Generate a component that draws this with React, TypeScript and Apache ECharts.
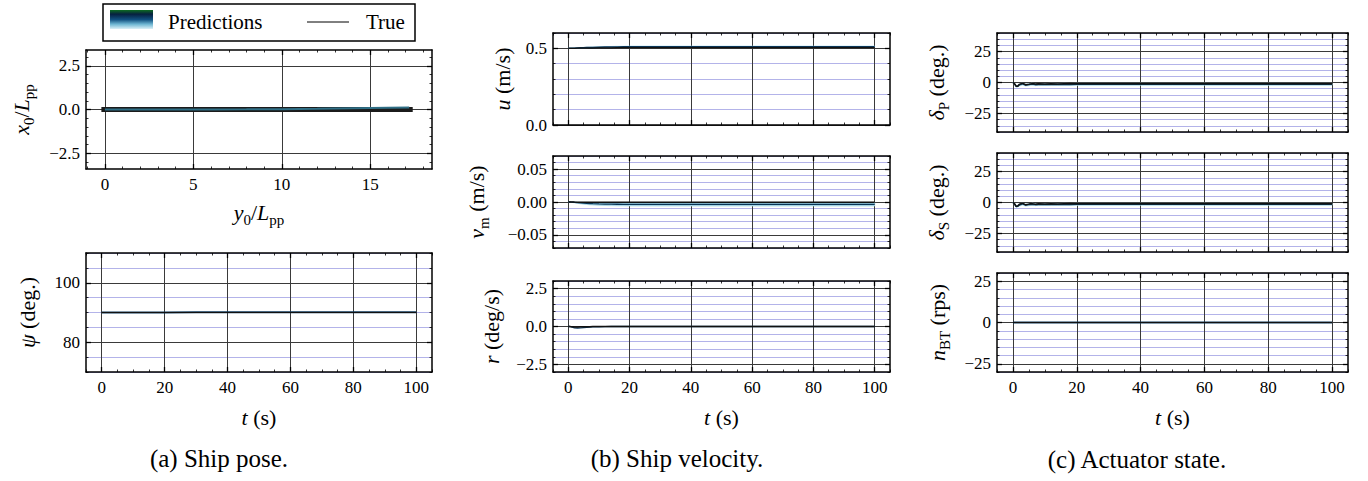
import React, { useEffect, useRef } from "react";
import * as echarts from "echarts";

const FONT = "'Liberation Serif', 'Times New Roman', serif";

// ---- tick labels ----
const timeTicks = [0, 20, 40, 60, 80, 100];
const poseEastTicks = [0, 5, 10, 15];
const poseNorthTicks = [-2.5, 0, 2.5];
const psiTicks = [80, 100];
const uTicks = [0, 0.5];
const vmTicks = [-0.05, 0, 0.05];
const rTicks = [-2.5, 0, 2.5];
const deltaTicks = [-25, 0, 25];
const nbtTicks = [-25, 0, 25];

// ---- data ----
const tGrid = [0, 0.5, 1, 1.5, 2, 3, 4, 5, 6, 7, 8, 10, 12, 14, 16, 18, 20, 30, 40, 50, 60, 70, 80, 90, 100];

const poseY0True = [-0.2, 2, 4, 6, 8, 10, 12, 14, 16, 17.4];
const poseX0True = [0, 0, 0, 0, 0, 0, 0, 0, 0, 0];
const poseY0Pred = [0, 2, 4, 6, 8, 10, 12, 14, 16, 17.2];
const poseX0Pred = [0, 0, 0, 0.005, 0.01, 0.02, 0.04, 0.07, 0.1, 0.12];

const psiTrue = [90, 90, 90, 90, 90, 90, 90, 90, 90, 90, 90, 90, 90, 90, 90, 90, 90, 90, 90, 90, 90, 90, 90, 90, 90];
const psiPred = [90, 90, 90, 90, 90, 90, 90, 90, 90, 90, 90, 90, 90, 90, 90, 90, 90, 90.1, 90.1, 90.1, 90.1, 90.1, 90.1, 90.1, 90.1];

const uTrue = [0.5, 0.5, 0.5, 0.5, 0.5, 0.501, 0.501, 0.501, 0.502, 0.502, 0.502, 0.503, 0.503, 0.503, 0.504, 0.504, 0.504, 0.505, 0.505, 0.505, 0.505, 0.505, 0.505, 0.505, 0.505];
const uPred = [0.5, 0.5, 0.5, 0.501, 0.501, 0.502, 0.503, 0.504, 0.505, 0.506, 0.506, 0.507, 0.508, 0.509, 0.509, 0.51, 0.51, 0.511, 0.511, 0.511, 0.511, 0.511, 0.511, 0.511, 0.511];
const uLow = [0.5, 0.5, 0.5, 0.5, 0.5, 0.501, 0.502, 0.502, 0.503, 0.504, 0.504, 0.505, 0.506, 0.506, 0.507, 0.507, 0.507, 0.508, 0.508, 0.508, 0.508, 0.508, 0.508, 0.508, 0.508];
const uHigh = [0.5, 0.5, 0.501, 0.502, 0.503, 0.504, 0.505, 0.506, 0.507, 0.508, 0.509, 0.51, 0.511, 0.512, 0.513, 0.513, 0.514, 0.514, 0.514, 0.514, 0.514, 0.514, 0.514, 0.514, 0.514];

const vmTrue = [0, 0, 0, 0, -0.0001, -0.0002, -0.0003, -0.0004, -0.0005, -0.0005, -0.0005, -0.0005, -0.0005, -0.0005, -0.0005, -0.0005, -0.0005, -0.0005, -0.0005, -0.0005, -0.0005, -0.0005, -0.0005, -0.0005, -0.0005];
const vmPred = [0, 0, -0.0002, -0.0004, -0.0006, -0.001, -0.0014, -0.0018, -0.0021, -0.0024, -0.0026, -0.0029, -0.0031, -0.0033, -0.0034, -0.0035, -0.0036, -0.0037, -0.0037, -0.0037, -0.0037, -0.0037, -0.0037, -0.0037, -0.0037];
const vmLow = [0, 0, -0.0004, -0.0008, -0.0012, -0.002, -0.0027, -0.0033, -0.0038, -0.0042, -0.0045, -0.005, -0.0053, -0.0055, -0.0057, -0.0058, -0.0059, -0.006, -0.006, -0.006, -0.006, -0.006, -0.006, -0.006, -0.006];
const vmHigh = [0, 0, 0, -0.0001, -0.0002, -0.0003, -0.0004, -0.0005, -0.0006, -0.0007, -0.0008, -0.0009, -0.001, -0.001, -0.001, -0.001, -0.001, -0.001, -0.001, -0.001, -0.001, -0.001, -0.001, -0.001, -0.001];

const rTrue = [0, 0, -0.01, -0.02, -0.03, -0.03, -0.02, -0.02, -0.01, -0.01, 0, 0, 0, 0, 0, 0, 0, 0, 0, 0, 0, 0, 0, 0, 0];
const rPred = [0, 0, -0.03, -0.06, -0.09, -0.1, -0.09, -0.07, -0.05, -0.04, -0.03, -0.02, -0.01, 0, 0, 0, 0, 0, 0, 0, 0, 0, 0, 0, 0];

const dPTrue = [0, -1, -3, -3, -1.5, -0.5, -1.8, -1.4, -0.9, -1.3, -1.1, -1.3, -1, -1.2, -1, -1.1, -1, -1, -1, -1, -1, -1, -1, -1, -1];
const dPPred = [0, -1.2, -3.2, -3, -2, -1.2, -2.2, -1.8, -1.4, -1.8, -1.6, -1.7, -1.5, -1.6, -1.5, -1.6, -1.5, -1.5, -1.5, -1.5, -1.5, -1.5, -1.5, -1.5, -1.5];
const dPLow = [0, -1.5, -3.8, -3.6, -2.8, -2, -2.8, -2.5, -2.2, -2.5, -2.3, -2.4, -2.2, -2.3, -2.2, -2.3, -2.2, -2.2, -2.2, -2.2, -2.2, -2.2, -2.2, -2.2, -2.2];
const dPHigh = [0, -0.6, -2.4, -2.2, -1.2, -0.4, -1.4, -1, -0.6, -0.9, -0.8, -0.9, -0.7, -0.8, -0.7, -0.8, -0.7, -0.7, -0.7, -0.7, -0.7, -0.7, -0.7, -0.7, -0.7];

const dSTrue = [0, -1, -3.1, -2.9, -1.4, -0.5, -1.9, -1.3, -0.9, -1.4, -1.1, -1.3, -1, -1.2, -1.1, -1.1, -1, -1, -1, -1, -1, -1, -1, -1, -1];
const dSPred = [0, -1.3, -3.3, -3, -2.1, -1.2, -2.2, -1.8, -1.5, -1.8, -1.6, -1.7, -1.5, -1.6, -1.5, -1.6, -1.5, -1.5, -1.5, -1.5, -1.5, -1.5, -1.5, -1.5, -1.5];
const dSLow = [0, -1.6, -3.9, -3.6, -2.9, -2, -2.9, -2.5, -2.2, -2.5, -2.3, -2.4, -2.3, -2.3, -2.2, -2.3, -2.2, -2.2, -2.2, -2.2, -2.2, -2.2, -2.2, -2.2, -2.2];
const dSHigh = [0, -0.6, -2.4, -2.2, -1.2, -0.4, -1.4, -1, -0.6, -0.9, -0.8, -0.9, -0.7, -0.8, -0.7, -0.8, -0.7, -0.7, -0.7, -0.7, -0.7, -0.7, -0.7, -0.7, -0.7];

const nbtTrue = [0, 0, 0, 0, 0, 0, 0, 0, 0, 0, 0, 0, 0, 0, 0, 0, 0, 0, 0, 0, 0, 0, 0, 0, 0];
const nbtPred = [0, 0, 0, 0, 0, 0, 0, 0, 0, 0, 0, 0, 0, 0, 0, 0, 0, 0, 0, 0, 0, 0, 0, 0, 0];

const legendLabels = ["Predictions", "True"];
const captions = ["(a) Ship pose.", "(b) Ship velocity.", "(c) Actuator state."];

// ---- helpers ----
function steps(a: number, b: number, s: number): number[] {
  const out: number[] = [];
  const n = Math.round((b - a) / s);
  for (let i = 0; i <= n; i++) out.push(+(a + i * s).toFixed(6));
  return out;
}
const minus = (s: string) => s.replace("-", "\u2212");
const fmt0 = (v: number) => minus(String(Math.round(v)));
const fmt1 = (v: number) => minus((Math.abs(v) < 1e-9 ? 0 : v).toFixed(1));
const fmt2 = (v: number) => minus((Math.abs(v) < 1e-9 ? 0 : v).toFixed(2));

const BLACK = "#000";
const TRUE_C = "#111111";
const PRED_C = "#0b3658";
const BAND_C = "#a3d4e6";
const MAJOR_GRID = "#3a3a3a";
const MINOR_GRID = "#b3b3e9";

const nameStyle = {
  fontFamily: FONT,
  fontSize: 22,
  color: BLACK,
  rich: {
    n: { fontFamily: FONT, fontSize: 22, lineHeight: 30, color: BLACK },
    i: { fontFamily: FONT, fontSize: 22, fontStyle: "italic", lineHeight: 30, color: BLACK },
    s: { fontFamily: FONT, fontSize: 15, lineHeight: 14, verticalAlign: "bottom", color: BLACK },
  },
};

type AxisCfg = {
  min: number;
  max: number;
  major: number[];
  minor: number[];
  labels: boolean;
  fmt: (v: number) => string;
  name?: string;
  gap?: number;
  minorGrid?: boolean;
};

type Panel = {
  grid: { left: number; top: number; width: number; height: number };
  x: AxisCfg;
  y: AxisCfg;
};

const tMin = -5;
const tMax = 105;
const tMinor = steps(-5, 105, 5);
const tName = "{i|t}{n| (s)}";

const panels: Panel[] = [
  {
    grid: { left: 86, top: 50, width: 346, height: 119 },
    x: { min: -1.07, max: 18.49, major: poseEastTicks, minor: steps(-1, 18, 1), labels: true, fmt: fmt0, name: "{i|y}{s|0}{n|/}{i|L}{s|pp}", gap: 28 },
    y: { min: -3.4, max: 3.4, major: poseNorthTicks, minor: steps(-3, 3, 0.5), labels: true, fmt: fmt1, name: "{i|x}{s|0}{n|/}{i|L}{s|pp}", gap: 50, minorGrid: false },
  },
  {
    grid: { left: 86, top: 253, width: 346, height: 119 },
    x: { min: tMin, max: tMax, major: timeTicks, minor: tMinor, labels: true, fmt: fmt0, name: tName, gap: 30 },
    y: { min: 70, max: 110, major: psiTicks, minor: steps(70, 110, 5), labels: true, fmt: fmt0, name: "{i|ψ}{n| (deg.)}", gap: 44, minorGrid: true },
  },
  {
    grid: { left: 553, top: 33, width: 337, height: 92 },
    x: { min: tMin, max: tMax, major: timeTicks, minor: tMinor, labels: false, fmt: fmt0 },
    y: { min: 0, max: 0.6, major: uTicks, minor: steps(0, 0.6, 0.1), labels: true, fmt: fmt1, name: "{i|u}{n| (m/s)}", gap: 36, minorGrid: true },
  },
  {
    grid: { left: 553, top: 156, width: 337, height: 92 },
    x: { min: tMin, max: tMax, major: timeTicks, minor: tMinor, labels: false, fmt: fmt0 },
    y: { min: -0.07, max: 0.07, major: vmTicks, minor: steps(-0.07, 0.07, 0.01), labels: true, fmt: fmt2, name: "{i|v}{s|m}{n| (m/s)}", gap: 62, minorGrid: true },
  },
  {
    grid: { left: 553, top: 281, width: 337, height: 91 },
    x: { min: tMin, max: tMax, major: timeTicks, minor: tMinor, labels: true, fmt: fmt0, name: tName, gap: 30 },
    y: { min: -3, max: 3, major: rTicks, minor: steps(-3, 3, 0.5), labels: true, fmt: fmt1, name: "{i|r}{n| (deg/s)}", gap: 47, minorGrid: true },
  },
  {
    grid: { left: 997, top: 33, width: 351, height: 99 },
    x: { min: tMin, max: tMax, major: timeTicks, minor: tMinor, labels: false, fmt: fmt0 },
    y: { min: -40, max: 40, major: deltaTicks, minor: steps(-40, 40, 5), labels: true, fmt: fmt0, name: "{i|δ}{s|P}{n| (deg.)}", gap: 46, minorGrid: true },
  },
  {
    grid: { left: 997, top: 153, width: 351, height: 99 },
    x: { min: tMin, max: tMax, major: timeTicks, minor: tMinor, labels: false, fmt: fmt0 },
    y: { min: -40, max: 40, major: deltaTicks, minor: steps(-40, 40, 5), labels: true, fmt: fmt0, name: "{i|δ}{s|S}{n| (deg.)}", gap: 46, minorGrid: true },
  },
  {
    grid: { left: 997, top: 273, width: 351, height: 99 },
    x: { min: tMin, max: tMax, major: timeTicks, minor: tMinor, labels: true, fmt: fmt0, name: tName, gap: 30 },
    y: { min: -30, max: 30, major: nbtTicks, minor: steps(-30, 30, 5), labels: true, fmt: fmt0, name: "{i|n}{s|BT}{n| (rps)}", gap: 45, minorGrid: true },
  },
];

function buildAxes(dim: "x" | "y", gridIndex: number, c: AxisCfg) {
  const prim = dim === "x" ? "bottom" : "left";
  const opp = dim === "x" ? "top" : "right";
  const base = { type: "value", gridIndex, min: c.min, max: c.max, scale: true };
  const minorTick = { show: true, inside: true, length: 2.5, customValues: c.minor, lineStyle: { color: BLACK, width: 0.8 } };
  const majorTick = { show: true, inside: true, length: 5, customValues: c.major, lineStyle: { color: BLACK, width: 1.3 } };
  const frameLine = { show: true, onZero: false, lineStyle: { color: BLACK, width: 1.5 } };
  return [
    {
      ...base,
      position: prim,
      axisLine: { show: false, onZero: false },
      axisLabel: { show: false },
      axisTick: minorTick,
      splitLine: { show: !!c.minorGrid, lineStyle: { color: MINOR_GRID, width: 1, type: "solid" } },
    },
    {
      ...base,
      position: opp,
      axisLine: { show: false, onZero: false },
      axisLabel: { show: false },
      axisTick: minorTick,
      splitLine: { show: false },
    },
    {
      ...base,
      position: prim,
      axisLine: frameLine,
      axisTick: majorTick,
      axisLabel: {
        show: c.labels,
        customValues: c.major,
        formatter: (v: number) => c.fmt(v),
        margin: dim === "x" ? 7 : 6,
        color: BLACK,
        fontFamily: FONT,
        fontSize: 17,
      },
      splitLine: { show: true, lineStyle: { color: MAJOR_GRID, width: 1 } },
      name: c.name,
      nameLocation: "middle",
      nameGap: c.gap,
      nameTextStyle: nameStyle,
    },
    {
      ...base,
      position: opp,
      axisLine: frameLine,
      axisTick: majorTick,
      axisLabel: { show: false },
      splitLine: { show: false },
    },
  ];
}

function zip(xs: number[], ys: number[]) {
  return xs.map((x, i) => [x, ys[i]]);
}

function lineSeries(p: number, xs: number[], ys: number[], color: string, width: number, z = 3) {
  return {
    type: "line",
    xAxisIndex: p * 4 + 2,
    yAxisIndex: p * 4 + 2,
    data: zip(xs, ys),
    symbol: "none",
    lineStyle: { color, width },
    z,
    silent: true,
  };
}

// prediction spread: polygon between the lower and upper prediction curves
function bandSeries(p: number, xs: number[], low: number[], high: number[]) {
  return {
    type: "custom",
    xAxisIndex: p * 4 + 2,
    yAxisIndex: p * 4 + 2,
    data: xs.map((x, i) => [x, low[i], high[i]]),
    encode: { x: 0, y: [1, 2] },
    clip: true,
    silent: true,
    z: 2,
    renderItem: (params: any, api: any) => {
      if (params.dataIndex !== 0) return null;
      const pts: number[][] = [];
      for (let i = 0; i < xs.length; i++) pts.push(api.coord([xs[i], high[i]]));
      for (let i = xs.length - 1; i >= 0; i--) pts.push(api.coord([xs[i], low[i]]));
      return {
        type: "polygon",
        shape: { points: pts },
        style: { fill: BAND_C, stroke: BAND_C, lineWidth: 0.8 },
      };
    },
  };
}

function buildOption() {
  const xAxis: any[] = [];
  const yAxis: any[] = [];
  const grid: any[] = [];
  panels.forEach((p, i) => {
    grid.push({ ...p.grid, containLabel: false, outerBoundsMode: "none", show: false });
    xAxis.push(...buildAxes("x", i, p.x));
    yAxis.push(...buildAxes("y", i, p.y));
  });

  const series: any[] = [
    // (a) pose trajectory
    lineSeries(0, poseY0True, poseX0True, "#1b1b1b", 5, 3),
    lineSeries(0, poseY0Pred, poseX0Pred, "#2f6f86", 2, 4),
    // psi
    lineSeries(1, tGrid, psiPred, PRED_C, 2, 3),
    lineSeries(1, tGrid, psiTrue, TRUE_C, 1.2, 4),
    // u
    bandSeries(2, tGrid, uLow, uHigh),
    lineSeries(2, tGrid, uPred, PRED_C, 1.5, 3),
    lineSeries(2, tGrid, uTrue, TRUE_C, 1.3, 4),
    // vm
    bandSeries(3, tGrid, vmLow, vmHigh),
    lineSeries(3, tGrid, vmPred, PRED_C, 1.3, 3),
    lineSeries(3, tGrid, vmTrue, TRUE_C, 1.5, 4),
    // r
    lineSeries(4, tGrid, rPred, PRED_C, 1.3, 3),
    lineSeries(4, tGrid, rTrue, TRUE_C, 1.5, 4),
    // delta P
    bandSeries(5, tGrid, dPLow, dPHigh),
    lineSeries(5, tGrid, dPPred, PRED_C, 1.3, 3),
    lineSeries(5, tGrid, dPTrue, TRUE_C, 1.5, 4),
    // delta S
    bandSeries(6, tGrid, dSLow, dSHigh),
    lineSeries(6, tGrid, dSPred, PRED_C, 1.3, 3),
    lineSeries(6, tGrid, dSTrue, TRUE_C, 1.5, 4),
    // n BT
    lineSeries(7, tGrid, nbtPred, PRED_C, 2, 3),
    lineSeries(7, tGrid, nbtTrue, TRUE_C, 1.2, 4),
  ];

  const captionStyle = { fontFamily: FONT, fontSize: 25, fill: BLACK, align: "center", verticalAlign: "middle" };
  const graphic: any[] = [
    {
      type: "rect",
      shape: { x: 103, y: 4, width: 312, height: 37 },
      style: { fill: "#fff", stroke: BLACK, lineWidth: 1.5 },
      z: 100,
    },
    {
      type: "rect",
      shape: { x: 110, y: 10, width: 43, height: 19 },
      style: {
        fill: new echarts.graphic.LinearGradient(0, 0, 0, 1, [
          { offset: 0, color: "#0d6b22" },
          { offset: 0.22, color: "#06203f" },
          { offset: 0.5, color: "#104f7f" },
          { offset: 0.75, color: "#6fb7d3" },
          { offset: 1, color: "#dcf0f7" },
        ]),
      },
      z: 101,
    },
    {
      type: "text",
      x: 168,
      y: 22,
      style: { text: legendLabels[0], fontFamily: FONT, fontSize: 21, fill: BLACK, verticalAlign: "middle" },
      z: 101,
    },
    {
      type: "line",
      shape: { x1: 307, y1: 22, x2: 349, y2: 22 },
      style: { stroke: BLACK, lineWidth: 1 },
      z: 101,
    },
    {
      type: "text",
      x: 366,
      y: 22,
      style: { text: legendLabels[1], fontFamily: FONT, fontSize: 21, fill: BLACK, verticalAlign: "middle" },
      z: 101,
    },
    { type: "text", x: 219, y: 458, style: { text: captions[0], ...captionStyle } },
    { type: "text", x: 677, y: 458, style: { text: captions[1], ...captionStyle } },
    { type: "text", x: 1137, y: 459, style: { text: captions[2], ...captionStyle } },
  ];

  return {
    animation: false,
    backgroundColor: "#fff",
    grid,
    xAxis,
    yAxis,
    series,
    graphic,
  };
}

export default function App() {
  const ref = useRef<HTMLDivElement>(null);
  useEffect(() => {
    if (!ref.current) return;
    const chart = echarts.init(ref.current, undefined, { renderer: "svg" });
    chart.setOption(buildOption() as any);
    return () => chart.dispose();
  }, []);
  return (
    <div
      ref={ref}
      style={{ position: "absolute", left: 0, top: 0, width: 1368, height: 481, background: "#fff" }}
    />
  );
}
